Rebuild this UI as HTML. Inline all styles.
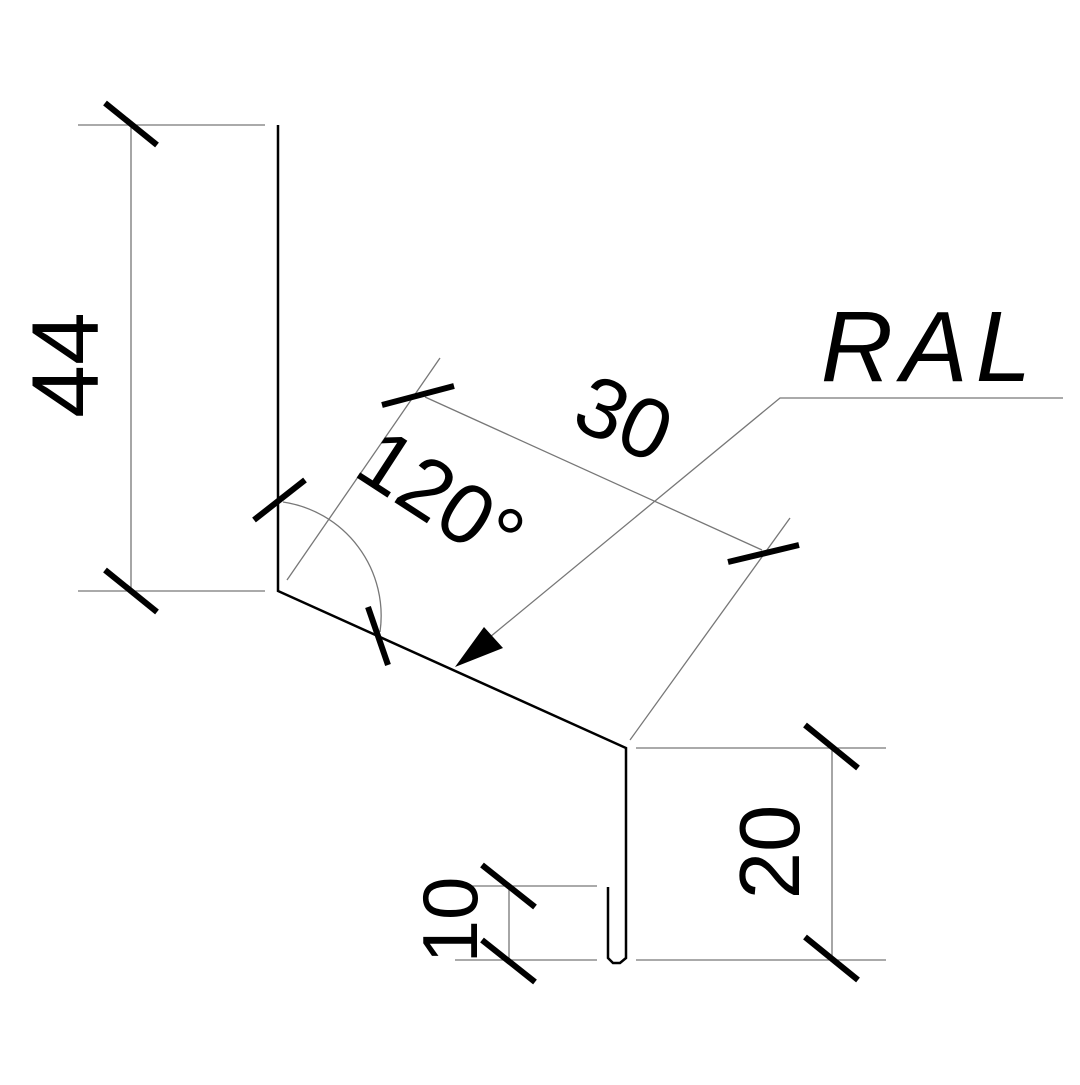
<!DOCTYPE html>
<html><head><style>html,body{margin:0;padding:0;background:#fff}</style></head><body>
<svg width="1080" height="1080" viewBox="0 0 1080 1080" xmlns="http://www.w3.org/2000/svg">
<g fill="none" stroke="#000" stroke-width="2.5">
<polyline points="278,125 278,591 626,748 626,958 620,963 613,963 608,958 608,887"/>
</g>
<g fill="none" stroke="#777" stroke-width="1.3">
<line x1="78" y1="125" x2="265" y2="125"/>
<line x1="78" y1="591" x2="265" y2="591"/>
<line x1="131" y1="125" x2="131" y2="591"/>
<line x1="287" y1="580" x2="440" y2="358"/>
<line x1="630" y1="740" x2="790" y2="518"/>
<line x1="425" y1="397" x2="762" y2="550"/>
<path d="M283,502 A115,115 0 0 1 380,632"/>
<line x1="636" y1="748" x2="886" y2="748"/>
<line x1="636" y1="960" x2="886" y2="960"/>
<line x1="832" y1="748" x2="832" y2="960"/>
<line x1="455" y1="886" x2="597" y2="886"/>
<line x1="455" y1="960" x2="597" y2="960"/>
<line x1="509" y1="886" x2="509" y2="960"/>
<polyline points="1063,398 780,398 490,637"/>
</g>
<polygon points="455,667 484,627 503,648" fill="#000"/>
<g stroke="#000" stroke-width="6" stroke-linecap="butt">
<line x1="105" y1="103" x2="157" y2="145"/>
<line x1="105" y1="570" x2="157" y2="612"/>
<line x1="382" y1="405" x2="454" y2="386"/>
<line x1="728" y1="562" x2="799" y2="545"/>
<line x1="254" y1="520" x2="305" y2="480"/>
<line x1="368" y1="607" x2="388" y2="665"/>
<line x1="805" y1="725" x2="858" y2="768"/>
<line x1="805" y1="937" x2="858" y2="980"/>
<line x1="482" y1="865" x2="535" y2="907"/>
<line x1="482" y1="940" x2="535" y2="982"/>
</g>
<g font-family="Liberation Sans, sans-serif" fill="#000" text-anchor="middle">
<text x="0" y="0" font-size="95" transform="translate(98,365) rotate(-90)">44</text>
<text x="0" y="0" font-size="85" transform="translate(612,445) rotate(24)">30</text>
<text x="0" y="0" font-size="85" transform="translate(425,522) rotate(33)">120°</text>
<text x="0" y="0" font-size="85" transform="translate(799,852) rotate(-90)">20</text>
<text x="0" y="0" font-size="78" transform="translate(477,920) rotate(-90)">10</text>
<text x="930" y="381" font-size="100" font-style="italic" letter-spacing="8">RAL</text>
</g>
</svg>
</body></html>
